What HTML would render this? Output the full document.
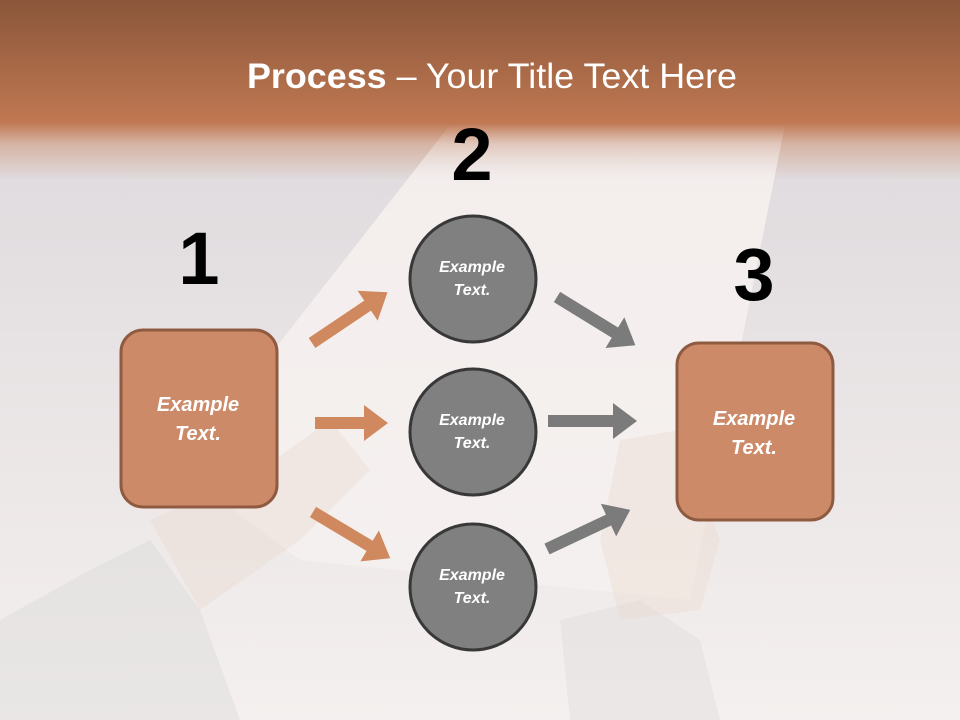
<!DOCTYPE html>
<html><head><meta charset="utf-8"><style>
html,body{margin:0;padding:0;width:960px;height:720px;overflow:hidden}
svg{display:block}
text{font-family:"Liberation Sans",sans-serif}
</style></head><body>
<svg width="960" height="720" viewBox="0 0 960 720" xmlns="http://www.w3.org/2000/svg">
<defs>
<linearGradient id="bg" x1="0" y1="0" x2="0" y2="1">
<stop offset="0" stop-color="#8a563a"/>
<stop offset="0.17" stop-color="#c07852"/>
<stop offset="0.2" stop-color="#d6b4a4"/>
<stop offset="0.25" stop-color="#e0dcdf"/>
<stop offset="0.6" stop-color="#ebe6e6"/>
<stop offset="1" stop-color="#f4f0ef"/>
</linearGradient>
<linearGradient id="pap" x1="0" y1="0" x2="0" y2="1">
<stop offset="0" stop-color="#ffffff" stop-opacity="0"/>
<stop offset="0.12" stop-color="#f8f2f0" stop-opacity="0.8"/>
<stop offset="1" stop-color="#f5f1f0" stop-opacity="0.9"/>
</linearGradient>
</defs>
<rect width="960" height="720" fill="url(#bg)"/>
<polygon points="450,125 785,125 690,600 300,560 180,470" fill="url(#pap)"/>
<path d="M0,620 L90,570 L150,540 L200,610 L240,720 L0,720Z" fill="#d5d3d3" opacity="0.35"/>
<path d="M560,620 L640,600 L700,640 L720,720 L570,720Z" fill="#d8d4d4" opacity="0.3"/>
<path d="M150,520 L260,470 L330,420 L370,470 L300,540 L200,610Z" fill="#e9d6cc" opacity="0.35"/>
<path d="M620,440 L680,430 L720,540 L700,610 L620,620 L600,540Z" fill="#ead6cc" opacity="0.35"/>
<text x="492" y="88" text-anchor="middle" font-size="35" fill="#fff" textLength="490" lengthAdjust="spacingAndGlyphs"><tspan font-weight="bold">Process</tspan> – Your Title Text Here</text>
<g font-weight="bold" font-size="74" text-anchor="middle" fill="#000">
<text x="199" y="284">1</text>
<text x="472" y="180">2</text>
<text x="754" y="300">3</text>
</g>
<g fill="#d0895f">
<polygon transform="translate(312,343) rotate(-33.9)" points="0,-6 67,-6 67,-18 91,0 67,18 67,6 0,6"/>
<polygon transform="translate(315,423)" points="0,-6 49,-6 49,-18 73,0 49,18 49,6 0,6"/>
<polygon transform="translate(313,512) rotate(30.9)" points="0,-6 66,-6 66,-18 90,0 66,18 66,6 0,6"/>
</g>
<g fill="#7b7b7b">
<polygon transform="translate(557,297) rotate(31.6)" points="0,-6 68,-6 68,-18 92,0 68,18 68,6 0,6"/>
<polygon transform="translate(548,421)" points="0,-6 65,-6 65,-18 89,0 65,18 65,6 0,6"/>
<polygon transform="translate(547,549) rotate(-25.2)" points="0,-6 68,-6 68,-18 92,0 68,18 68,6 0,6"/>
</g>
<g fill="#808080" stroke="#383838" stroke-width="3">
<circle cx="473" cy="279" r="63"/>
<circle cx="473" cy="432" r="63"/>
<circle cx="473" cy="587" r="63"/>
</g>
<g fill="#cd8a68" stroke="#8e5a40" stroke-width="3">
<rect x="121" y="330" width="156" height="177" rx="22"/>
<rect x="677" y="343" width="156" height="177" rx="22"/>
</g>
<g fill="#fff" font-weight="bold" font-style="italic" text-anchor="middle">
<text x="472" y="272" font-size="16">Example</text><text x="472" y="295" font-size="16">Text.</text>
<text x="472" y="425" font-size="16">Example</text><text x="472" y="448" font-size="16">Text.</text>
<text x="472" y="580" font-size="16">Example</text><text x="472" y="603" font-size="16">Text.</text>
<text x="198" y="411" font-size="20">Example</text><text x="198" y="440" font-size="20">Text.</text>
<text x="754" y="425" font-size="20">Example</text><text x="754" y="454" font-size="20">Text.</text>
</g>
</svg>
</body></html>
